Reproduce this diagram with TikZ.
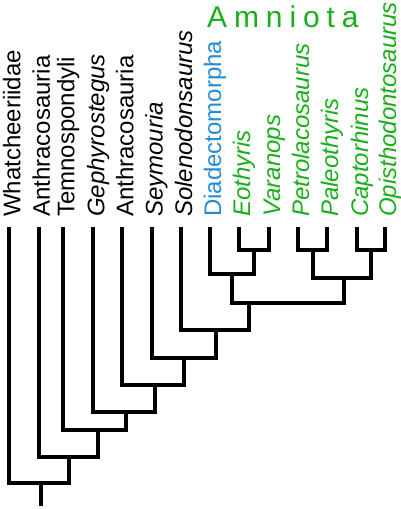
\documentclass[tikz,border=0pt]{standalone}
\usepackage{fontspec}
\setmainfont{Liberation Sans}
\usetikzlibrary{calc}
\definecolor{amgreen}{RGB}{25,175,25}
\definecolor{diablue}{RGB}{35,140,215}
\tikzset{
  br/.style={line width=4pt},
  taxon/.style={rotate=90, anchor=base west, inner sep=0pt, font=\fontsize{24}{28}\selectfont},
  genus/.style={taxon, font=\fontsize{24}{28}\selectfont\itshape},
}
\begin{document}
\begin{tikzpicture}[x=1pt,y=1pt]
  \useasboundingbox (0,0) rectangle (401,509);
  % leaf tips
  \coordinate (l1) at (9.3,282); \coordinate (l2) at (39,282);
  \coordinate (l3) at (63.3,282); \coordinate (l4) at (93.3,282);
  \coordinate (l5) at (122.3,282); \coordinate (l6) at (151.7,282);
  \coordinate (l7) at (181,282); \coordinate (l8) at (210,282);
  \coordinate (l9) at (239,282); \coordinate (l10) at (269,282);
  \coordinate (l11) at (298,282); \coordinate (l12) at (327,282);
  \coordinate (l13) at (357,282); \coordinate (l14) at (385,282);
  % branch points
  \coordinate (eo) at (254,259); \coordinate (pp) at (312.5,259);
  \coordinate (co) at (371,259); \coordinate (dv) at (232,235);
  \coordinate (pc) at (344,231); \coordinate (am) at (249,206);
  \coordinate (so) at (216,179); \coordinate (se) at (184,151);
  \coordinate (an) at (155,124); \coordinate (ge) at (126,97);
  \coordinate (te) at (98,79); \coordinate (at) at (69,52);
  \coordinate (rt) at (41,26); \coordinate (base) at (41,3);
  % labels
  \node[taxon] (wha) at ($(l1)+(11,10)$) {Whatcheeriidae};
  \node[taxon] (ant1) at ($(l2)+(11,10)$) {Anthracosauria};
  \node[taxon] (tem) at ($(l3)+(11,10)$) {Temnospondyli};
  \node[genus] (gep) at ($(l4)+(11,10)$) {Gephyrostegus};
  \node[taxon] (ant2) at ($(l5)+(11,10)$) {Anthracosauria};
  \node[genus] (sey) at ($(l6)+(11,10)$) {Seymouria};
  \node[genus] (sol) at ($(l7)+(11,10)$) {Solenodonsaurus};
  \node[taxon, text=diablue] (dia) at ($(l8)+(11,10)$) {Diadectomorpha};
  \node[genus, text=amgreen] (eot) at ($(l9)+(11,10)$) {Eothyris};
  \node[genus, text=amgreen] (var) at ($(l10)+(11,10)$) {Varanops};
  \node[genus, text=amgreen] (pet) at ($(l11)+(11,10)$) {Petrolacosaurus};
  \node[genus, text=amgreen] (pal) at ($(l12)+(11,10)$) {Paleothyris};
  \node[genus, text=amgreen] (cap) at ($(l13)+(11,10)$) {Captorhinus};
  \node[genus, text=amgreen] (opi) at ($(l14)+(11,10)$) {Opisthodontosaurus};
  \node[anchor=base west, inner sep=0pt, text=amgreen,
        font=\fontsize{30}{34}\selectfont\addfontfeature{LetterSpace=23}] (amn) at (207,481) {Amniota};
  % branches
  \draw[br] (eo) -| (l9); \draw[br] (eo) -| (l10);
  \draw[br] (pp) -| (l11); \draw[br] (pp) -| (l12);
  \draw[br] (co) -| (l13); \draw[br] (co) -| (l14);
  \draw[br] (dv) -| (l8); \draw[br] (dv) -| (eo);
  \draw[br] (pc) -| (pp); \draw[br] (pc) -| (co);
  \draw[br] (am) -| (dv); \draw[br] (am) -| (pc);
  \draw[br] (so) -| (l7); \draw[br] (so) -| (am);
  \draw[br] (se) -| (l6); \draw[br] (se) -| (so);
  \draw[br] (an) -| (l5); \draw[br] (an) -| (se);
  \draw[br] (ge) -| (l4); \draw[br] (ge) -| (an);
  \draw[br] (te) -| (l3); \draw[br] (te) -| (ge);
  \draw[br] (at) -| (l2); \draw[br] (at) -| (te);
  \draw[br] (rt) -| (l1); \draw[br] (rt) -| (at);
  \draw[br] (rt) -- (base);
\end{tikzpicture}
\end{document}
